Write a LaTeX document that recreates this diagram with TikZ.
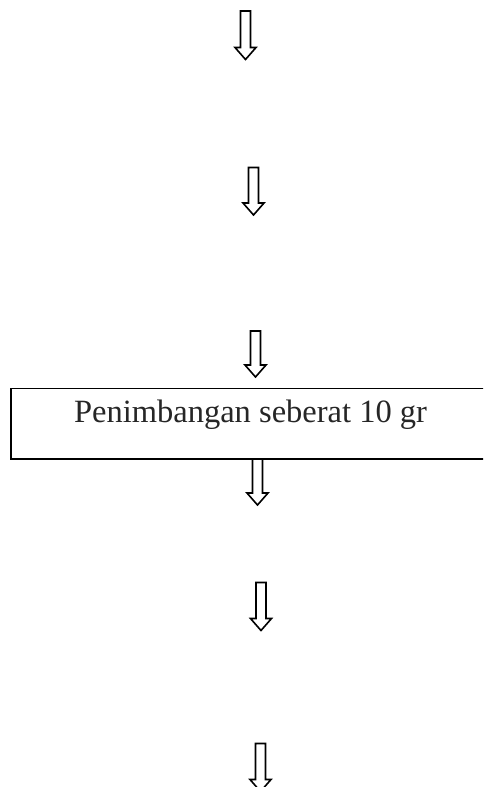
\documentclass[tikz,border=0pt]{standalone}
\usepackage{fontspec}
\setmainfont{Liberation Serif}
\tikzset{
  x=1pt, y=-1pt,
  arrowline/.style={draw=black, line width=1.6pt, fill=white, line join=miter},
  stepbox/.style={draw=black, line width=1.6pt, fill=white},
  steptext/.style={font=\fontsize{32.5}{38}\selectfont, inner sep=0pt, anchor=base, text=black!85},
}
% hollow block arrow pointing down: centre x, top y, tip y
\newcommand{\blockdown}[3]{%
  \path[arrowline] (#1-5,#2) -- (#1+5,#2) -- (#1+5,#3-12) -- (#1+10.5,#3-12)
    -- (#1,#3) -- (#1-10.5,#3-12) -- (#1-5,#3-12) -- cycle;}
\begin{document}
\begin{tikzpicture}
\useasboundingbox (0,0) rectangle (483,787);
\clip (0,0) rectangle (483,787);
\fill[white] (0,0) rectangle (483,787);
% weighing step box, open past the right margin
\path[stepbox] (11,388.5) rectangle (520,459);
\node[steptext] (weigh) at (250.5,422) {Penimbangan seberat 10 gr};
% flow arrows
\blockdown{245.5}{11}{59.5}
\blockdown{253.5}{167.5}{215}
\blockdown{255.5}{331}{377}
\blockdown{257.5}{459}{505}
\blockdown{261}{582.5}{630.5}
\blockdown{260.5}{743.5}{791.5}
\end{tikzpicture}
\end{document}
